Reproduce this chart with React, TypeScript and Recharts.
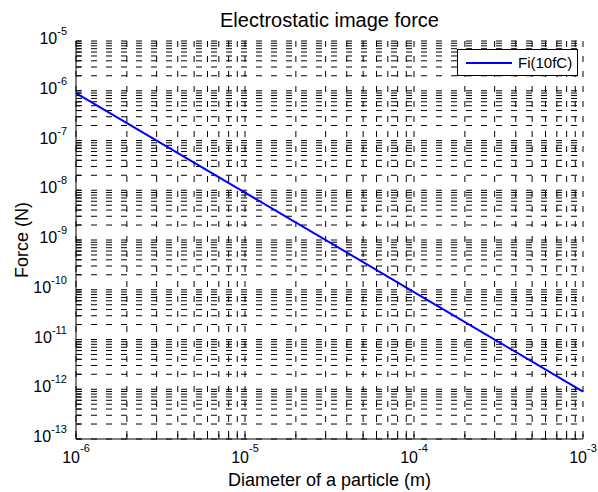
import React from 'react';
import { LineChart, Line, XAxis, YAxis, CartesianGrid, Legend } from 'recharts';

const FONT = '"Liberation Sans", Arial, Helvetica, sans-serif';

// particle diameter (m) vs image force (N) for q = 10 fC
const diameters = [1e-6, 1e-5, 1e-4, 1e-3];
const forces = [9e-7, 9e-9, 9e-11, 9e-13];
const seriesName = 'Fi(10fC)';

const xDecades = [-6, -5, -4, -3];
const yDecades = [-13, -12, -11, -10, -9, -8, -7, -6, -5];
const minorSteps = [1, 2, 3, 4, 5, 6, 7, 8, 9];

const buildTicks = (decades: number[]) => {
  const out: number[] = [];
  decades.forEach((e, i) => {
    if (i === decades.length - 1) {
      out.push(Math.pow(10, e));
    } else {
      minorSteps.forEach((m) => out.push(m * Math.pow(10, e)));
    }
  });
  return out;
};

const xTicks = buildTicks(xDecades);
const yTicks = buildTicks(yDecades);

const data = diameters.map((d, i) => ({ d, f: forces[i] }));

const isDecade = (v: number) => Math.abs(Math.log10(v) - Math.round(Math.log10(v))) < 1e-6;
const expOf = (v: number) => Math.round(Math.log10(v));

const TICK = 5;

const BottomTick = (props: any) => {
  const { x, y, payload } = props;
  const v = payload.value;
  return (
    <g>
      <line x1={x} x2={x} y1={y} y2={y - TICK} stroke="#000" />
      {isDecade(v) && (
        <text x={x} y={y + 24} textAnchor="middle" fontSize={16} fill="#000" fontFamily={FONT}>
          10<tspan dy={-11} fontSize={11}>{expOf(v)}</tspan>
        </text>
      )}
    </g>
  );
};

const TopTick = (props: any) => {
  const { x, y } = props;
  return <line x1={x} x2={x} y1={y} y2={y + TICK} stroke="#000" />;
};

const LeftTick = (props: any) => {
  const { x, y, payload } = props;
  const v = payload.value;
  return (
    <g>
      <line x1={x} x2={x + TICK} y1={y} y2={y} stroke="#000" />
      {isDecade(v) && (
        <text x={x - 9} y={y + 3} textAnchor="end" fontSize={16} fill="#000" fontFamily={FONT}>
          10<tspan dy={-9} fontSize={11}>{expOf(v)}</tspan>
        </text>
      )}
    </g>
  );
};

const RightTick = (props: any) => {
  const { x, y } = props;
  return <line x1={x} x2={x - TICK} y1={y} y2={y} stroke="#000" />;
};

const LegendBox = (props: any) => {
  const item = (props.payload || [])[0];
  return (
    <div
      style={{
        boxSizing: 'border-box',
        width: 121,
        height: 27,
        border: '1px solid #000',
        background: '#fff',
        display: 'flex',
        alignItems: 'center',
        fontFamily: FONT,
        fontSize: 15,
        color: '#000',
      }}
    >
      <svg width={60} height={25}>
        <line x1={8} x2={54} y1={13} y2={13} stroke={item ? item.color : '#00f'} strokeWidth={2} />
      </svg>
      <span>{item ? item.value : seriesName}</span>
    </div>
  );
};

export default function App() {
  return (
    <div style={{ position: 'absolute', left: 0, top: 0, width: 598, height: 492, background: '#fff' }}>
      <LineChart width={598} height={492} data={data} margin={{ top: 41, right: 15, bottom: 0, left: 0 }}>
        <CartesianGrid xAxisId="b" yAxisId="l" stroke="#000" strokeDasharray="6 9" />
        <XAxis
          xAxisId="b"
          dataKey="d"
          type="number"
          scale="log"
          domain={[1e-6, 1e-3]}
          ticks={xTicks}
          interval={0}
          height={53}
          tickSize={0}
          tickMargin={0}
          tickLine={false}
          tick={<BottomTick />}
          axisLine={{ stroke: '#000' }}
        />
        <XAxis
          xAxisId="t"
          orientation="top"
          dataKey="d"
          type="number"
          scale="log"
          domain={[1e-6, 1e-3]}
          ticks={xTicks}
          interval={0}
          height={0}
          tickSize={0}
          tickMargin={0}
          tickLine={false}
          tick={<TopTick />}
          axisLine={{ stroke: '#000' }}
        />
        <YAxis
          yAxisId="l"
          type="number"
          scale="log"
          domain={[1e-13, 1e-5]}
          ticks={yTicks}
          interval={0}
          width={76}
          tickSize={0}
          tickMargin={0}
          tickLine={false}
          tick={<LeftTick />}
          axisLine={{ stroke: '#000' }}
        />
        <YAxis
          yAxisId="r"
          orientation="right"
          type="number"
          scale="log"
          domain={[1e-13, 1e-5]}
          ticks={yTicks}
          interval={0}
          width={0}
          tickSize={0}
          tickMargin={0}
          tickLine={false}
          tick={<RightTick />}
          axisLine={{ stroke: '#000' }}
        />
        <Legend
          layout="horizontal"
          verticalAlign="middle"
          align="center"
          content={<LegendBox />}
          wrapperStyle={{ left: 457, top: 49, width: 121, height: 27 }}
        />
        <Line
          xAxisId="b"
          yAxisId="l"
          type="linear"
          dataKey="f"
          name={seriesName}
          stroke="#0000ff"
          strokeWidth={2}
          dot={false}
          isAnimationActive={false}
        />
      </LineChart>
      <svg
        width={598}
        height={492}
        style={{ position: 'absolute', left: 0, top: 0, pointerEvents: 'none' }}
      >
        <text x={329.5} y={27} textAnchor="middle" fontSize={20} fontFamily={FONT} fill="#000">
          Electrostatic image force
        </text>
        <text x={329.5} y={486} textAnchor="middle" fontSize={18} fontFamily={FONT} fill="#000">
          Diameter of a particle (m)
        </text>
        <text
          x={28}
          y={240}
          transform="rotate(-90 28 240)"
          textAnchor="middle"
          fontSize={18}
          fontFamily={FONT}
          fill="#000"
        >
          Force (N)
        </text>
      </svg>
    </div>
  );
}
